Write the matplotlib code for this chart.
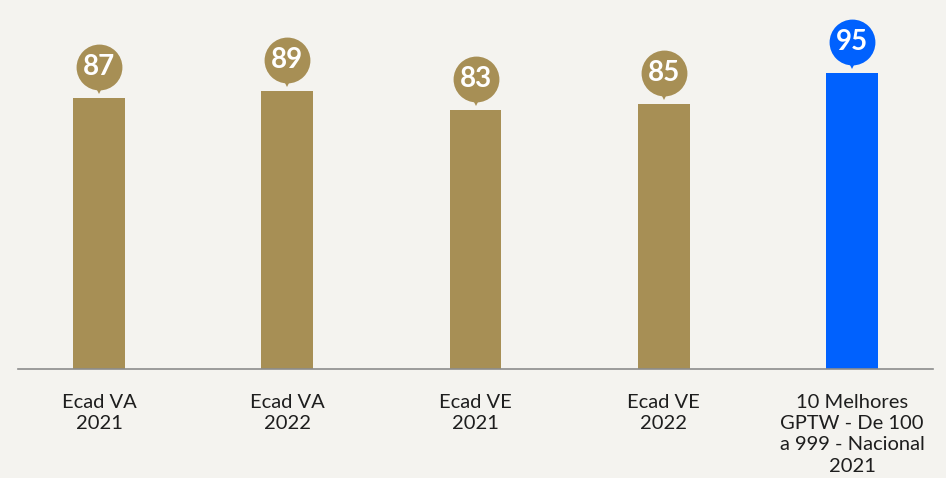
import matplotlib
matplotlib.use("Agg")
import matplotlib.pyplot as plt
from matplotlib.transforms import offset_copy

categories = ["Ecad VA\n2021", "Ecad VA\n2022", "Ecad VE\n2021", "Ecad VE\n2022",
              "10 Melhores\nGPTW - De 100\na 999 - Nacional\n2021"]
values = [87, 89, 83, 85, 95]
colors = ["#A78F55", "#A78F55", "#A78F55", "#A78F55", "#0061FE"]

BG = "#F4F3EF"
fig = plt.figure(figsize=(9.46, 4.78), dpi=100, facecolor=BG)
ax = fig.add_axes([18/946, (478-369)/478, (933-18)/946, 312/478])
ax.set_facecolor(BG)

x = list(range(len(values)))
ax.bar(x, values, width=0.276, color=colors, zorder=2)
ax.set_xlim(-0.43, 4.43)
ax.set_ylim(0, 100)

for xi, v, c in zip(x, values, colors):
    circ_t = offset_copy(ax.transData, fig=fig, x=0, y=31, units='dots')
    tip_t = offset_copy(ax.transData, fig=fig, x=0, y=10, units='dots')
    ax.plot([xi], [v], marker='o', markersize=33, color=c, transform=circ_t,
            clip_on=False, zorder=3, markeredgewidth=0)
    ax.plot([xi], [v], marker='v', markersize=9, color=c, transform=tip_t,
            clip_on=False, zorder=3, markeredgewidth=0)
    ax.annotate(str(v), xy=(xi, v), xytext=(0, 31), textcoords='offset pixels',
                ha='center', va='center', color='white', fontsize=20,
                fontweight='bold', family='Lato', zorder=4, annotation_clip=False)

ax.set_yticks([])
ax.set_xticks(x)
ax.set_xticklabels(categories, fontsize=14.5, family='Lato', color='#1e1e1e',
                   linespacing=1.3)
ax.tick_params(axis='x', length=0, pad=18)
for s in ['top', 'right', 'left']:
    ax.spines[s].set_visible(False)
ax.spines['bottom'].set_color('#8c8c8c')
ax.spines['bottom'].set_linewidth(1.2)

fig.savefig("out.png", dpi=100, facecolor=BG)
